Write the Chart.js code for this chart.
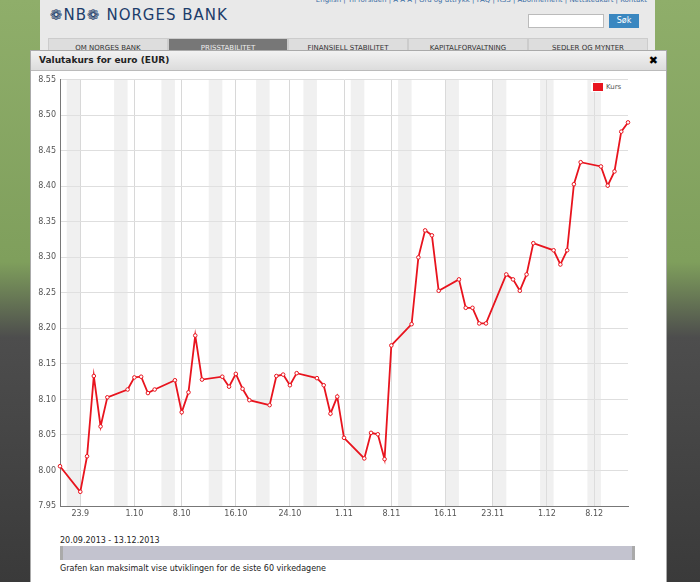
<!DOCTYPE html>
<html>
<head>
<meta charset="utf-8">
<script src="https://cdn.jsdelivr.net/npm/chart.js@4/dist/chart.umd.min.js"></script>
<style>
  body { margin: 0; width: 700px; height: 582px; overflow: hidden; font-family: Tahoma, "DejaVu Sans", sans-serif;
         background: linear-gradient(180deg, #8fae6a 0%, #7f9f5c 45%, #4d4d4d 58%, #3a3a3a 100%); position: relative; }
  #page { position: absolute; left: 40px; top: 0; width: 615px; height: 582px; background: #e9e9e9; }
  #logo { position: absolute; left: 10px; top: 6px; font-size: 15px; color: #1d3d6b; letter-spacing: 1px; }
  #toplinks { position: absolute; right: 8px; top: -4px; font-size: 7px; color: #3b6ea5; }
  #search { position: absolute; left: 488px; top: 14px; width: 74px; height: 12px; background: #fff; border: 1px solid #bbb; }
  #sok { position: absolute; left: 569px; top: 14px; width: 30px; height: 14px; background: #3a87c0; color: #fff; font-size: 8px; text-align: center; line-height: 14px; }
  .tab { position: absolute; top: 38px; height: 14px; background: #ddd; border: 1px solid #ccc; font-size: 7px; color: #333; text-align: center; line-height: 18px; }
  #modal { position: absolute; left: 30px; top: 50px; width: 635px; height: 540px; background: #fff; border: 1px solid #aaa; }
  #title { height: 19px; background: linear-gradient(#f2f2f2, #dcdcdc); border-bottom: 1px solid #bbb; font-size: 9px; font-weight: bold; color: #222; line-height: 19px; padding-left: 8px; }
  #close { position: absolute; right: 8px; top: 0; font-size: 11px; font-weight: bold; line-height: 19px; }
  #wrap { position: absolute; left: 0; top: 20px; width: 620px; height: 455px; }
  #legend { position: absolute; left: 560px; top: 31px; font-size: 7px; color: #555; background: #fff; padding: 1px 2px; }
  #legend span { display: inline-block; width: 10px; height: 8px; background: #e8141e; vertical-align: middle; margin-right: 3px; }
  #range { position: absolute; left: 29px; top: 485px; font-size: 8px; color: #222; }
  #slider { position: absolute; left: 29px; top: 495px; width: 575px; height: 14px; background: #c3c3cf; border-left: 3px solid #aaa; border-right: 3px solid #aaa; box-sizing: border-box; }
  #note { position: absolute; left: 29px; top: 513px; font-size: 8px; color: #222; }
</style>
</head>
<body>
<div id="page">
  <div id="logo">&#10049;NB&#10049; NORGES BANK</div>
  <div id="toplinks">English | Til forsiden | A A A | Ord og uttrykk | FAQ | RSS | Abonnement | Nettstedkart | Kontakt</div>
  <div id="search"></div><div id="sok">Søk</div>
  <div class="tab" style="left:8px;width:118px">OM NORGES BANK</div>
  <div class="tab" style="left:128px;width:118px;background:#777;color:#eee">PRISSTABILITET</div>
  <div class="tab" style="left:248px;width:118px">FINANSIELL STABILITET</div>
  <div class="tab" style="left:368px;width:118px">KAPITALFORVALTNING</div>
  <div class="tab" style="left:488px;width:118px">SEDLER OG MYNTER</div>
</div>
<div id="modal">
  <div id="title">Valutakurs for euro (EUR)</div>
  <div id="close">&#10006;</div>
  <div id="wrap"><canvas id="chart"></canvas></div>
  <div id="legend"><span></span>Kurs</div>
  <div id="range">20.09.2013 - 13.12.2013</div>
  <div id="slider"></div>
  <div id="note">Grafen kan maksimalt vise utviklingen for de siste 60 virkedagene</div>
</div>
<script>
// --- Data (days counted from 20.09.2013) ---
const startDate = new Date(2013, 8, 20);
const days = [0, 3, 4, 5, 6, 7, 10, 11, 12, 13, 14, 17, 18, 19, 20, 21, 24, 25, 26, 27, 28,
    31, 32, 33, 34, 35, 38, 39, 40, 41, 42, 45, 46, 47, 48, 49, 52, 53, 54, 55, 56,
    59, 60, 61, 62, 63, 66, 67, 68, 69, 70, 73, 74, 75, 76, 77, 80, 81, 82, 83, 84];
const kurs = [8.006, 7.970, 8.020, 8.133, 8.062, 8.103, 8.114, 8.131, 8.132, 8.109, 8.114,
    8.127, 8.082, 8.110, 8.190, 8.128, 8.132, 8.118, 8.136, 8.115, 8.099,
    8.092, 8.133, 8.135, 8.120, 8.137, 8.130, 8.120, 8.080, 8.104, 8.046,
    8.017, 8.053, 8.051, 8.016, 8.176, 8.206, 8.300, 8.338, 8.331, 8.253,
    8.269, 8.229, 8.229, 8.207, 8.207, 8.276, 8.269, 8.253, 8.276, 8.320,
    8.310, 8.290, 8.310, 8.403, 8.434, 8.428, 8.401, 8.421, 8.477, 8.490];
const tickDays = [3, 11, 18, 26, 34, 42, 49, 57, 64, 72, 79];
const weekendStarts = [1, 8, 15, 22, 29, 36, 43, 50, 57, 64, 71, 78];

function dayLabel(d) {
    const dt = new Date(startDate.getTime() + d * 86400000);
    return dt.getDate() + '.' + (dt.getMonth() + 1);
}

// Shade weekends behind the line
const weekendPlugin = {
    id: 'weekends',
    beforeDatasetsDraw(chart) {
        const { ctx, chartArea, scales } = chart;
        ctx.save();
        ctx.fillStyle = 'rgba(225,225,225,0.5)';
        weekendStarts.forEach(d => {
            const x1 = scales.x.getPixelForValue(d);
            const x2 = scales.x.getPixelForValue(Math.min(d + 2, 84));
            ctx.fillRect(x1, chartArea.top, x2 - x1, chartArea.bottom - chartArea.top);
        });
        ctx.restore();
    }
};

new Chart(document.getElementById('chart'), {
    type: 'line',
    data: {
        datasets: [{
            label: 'Kurs',
            data: days.map((d, i) => ({ x: d, y: kurs[i] })),
            borderColor: '#e8141e',
            borderWidth: 1.8,
            pointRadius: 1.8,
            pointBackgroundColor: '#fff',
            pointBorderColor: '#e8141e',
            pointBorderWidth: 1,
            tension: 0,
            clip: 4
        }]
    },
    options: {
        responsive: true,
        maintainAspectRatio: false,
        animation: false,
        layout: { padding: { top: 5, right: 23 } },
        plugins: { legend: { display: false }, tooltip: { enabled: false } },
        scales: {
            x: {
                type: 'linear', min: 0, max: 84,
                afterBuildTicks: axis => { axis.ticks = tickDays.map(v => ({ value: v })); },
                afterFit: axis => { axis.height = 20; },
                ticks: { callback: v => dayLabel(v), font: { size: 8, family: 'Tahoma, DejaVu Sans' }, color: '#555', maxRotation: 0, autoSkip: false },
                grid: { color: '#d8d8d8', drawTicks: false },
                border: { color: '#777', width: 1 }
            },
            y: {
                min: 7.95, max: 8.55,
                afterFit: axis => { axis.width = 29; },
                ticks: { stepSize: 0.05, callback: v => v.toFixed(2), font: { size: 8, family: 'Tahoma, DejaVu Sans' }, color: '#555', padding: 4 },
                grid: { color: '#dedede', drawTicks: false },
                border: { color: '#777', width: 1 }
            }
        }
    },
    plugins: [weekendPlugin]
});
</script>
</body>
</html>
